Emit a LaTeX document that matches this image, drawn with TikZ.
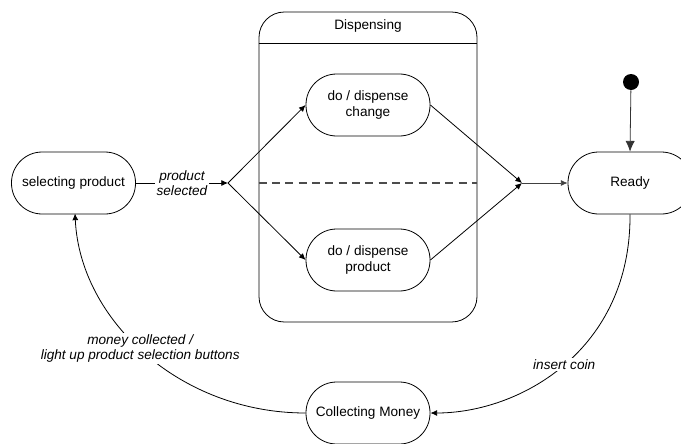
\documentclass[tikz,border=0pt]{standalone}
\usepackage{fontspec}
\setmainfont{Liberation Sans}
\usetikzlibrary{arrows.meta}
\begin{document}
\begin{tikzpicture}[x=0.75pt,y=-0.75pt,
  font=\fontsize{10.2}{11.5}\selectfont,
  line width=0.6pt,
  state/.style={draw, rectangle, rounded corners=23pt, minimum width=93pt,
    minimum height=46.5pt, align=center, inner sep=2pt},
  trans/.style={-{Latex[length=5pt,width=4.5pt]}},
  lbl/.style={fill=white, font=\fontsize{10.2}{11.5}\selectfont\itshape, align=center, inner sep=1pt}]
\useasboundingbox (0,0) rectangle (681,443);

% composite state with two concurrent regions
\node (disp) [draw, rounded corners=19pt, minimum width=163.5pt, minimum height=232.5pt] at (368,167) {};
\node (disptitle) at (368,26) {Dispensing};
\coordinate (hdr) at (368,43);
\draw (disp.west |- hdr) -- (disp.east |- hdr);

% states
\node (sel) [state] at (73.5,183) {selecting product};
\node (chg) [state] at (368,105) {do / dispense\\change};
\node (prd) [state] at (368,260) {do / dispense\\product};
\node (ready) [state] at (630,183) {Ready};
\node (coll) [state] at (368,413) {Collecting Money};
\node (init) [circle, fill=black, minimum size=12pt, inner sep=0pt] at (631,82) {};

% fork and join points
\coordinate (fork) at (228,183);
\coordinate (join) at (522,183);

\draw [dashed, dash pattern=on 6pt off 4pt, line width=1.1pt, black!70] (disp.west |- fork) -- (disp.east |- fork);

% transitions
\draw [trans] (sel) -- node[lbl] {product\\selected} (fork);
\draw [trans] (fork) -- (chg.west);
\draw [trans] (fork) -- (prd.west);
\draw [trans] (chg.east) -- (join);
\draw [trans] (prd.east) -- (join);
\draw [trans, black!75] (join) -- (ready.west);
\draw [-{Latex[length=8pt,width=7pt]}, black!80] (init) -- (ready.north);
\draw [trans] (ready.south) .. controls (631,350) and (520,413) .. node[lbl, pos=0.5] {insert coin} (coll.east);
\draw [trans] (coll.west) .. controls (180,413) and (80,320) .. node[lbl, pos=0.52] {money collected /\\light up product selection buttons} (75,213.5);
\end{tikzpicture}
\end{document}
